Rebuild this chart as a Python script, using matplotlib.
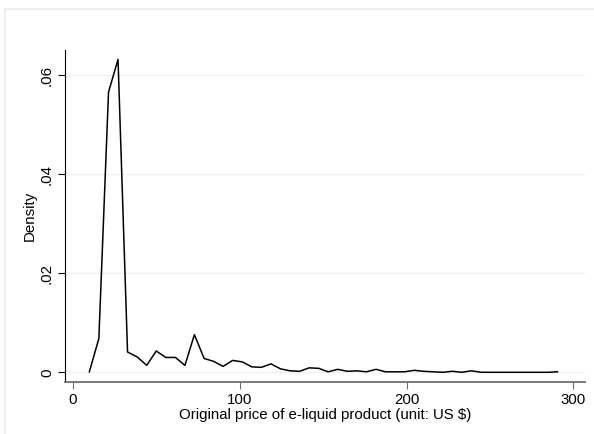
import numpy as np
import matplotlib.pyplot as plt
from matplotlib.patches import Rectangle

plt.rcParams['font.family'] = ['Liberation Sans', 'DejaVu Sans']

# bin midpoints and density
price = [9.8, 15.5, 21.3, 27.0, 32.7, 38.5, 44.2, 49.9, 55.6, 61.4,
         67.1, 72.8, 78.6, 84.3, 90.0, 95.7, 101.5, 107.2, 112.9, 118.7,
         124.4, 130.1, 135.8, 141.6, 147.3, 153.0, 158.7, 164.5, 170.2, 175.9,
         181.7, 187.4, 193.1, 198.8, 204.6, 210.3, 216.0, 221.7, 227.5, 233.2,
         238.9, 244.7, 250.4, 256.1, 261.8, 267.6, 273.3, 279.0, 284.7, 290.5]
density = [0.0001, 0.0068, 0.0566, 0.0632, 0.0041, 0.0031, 0.0014, 0.0043, 0.0030, 0.0030,
           0.0014, 0.0076, 0.0028, 0.0022, 0.0012, 0.0024, 0.0021, 0.0011, 0.0010, 0.0017,
           0.0007, 0.0003, 0.0002, 0.0009, 0.0008, 0.0001, 0.0006, 0.0002, 0.0003, 0.0001,
           0.0006, 0.0001, 0.0001, 0.0001, 0.0004, 0.0002, 0.0001, 0.0000, 0.0002, 0.0000,
           0.0003, 0.0000, 0.0000, 0.0000, 0.0000, 0.0000, 0.0000, 0.0000, 0.0000, 0.0001]

xticks = [0, 100, 200, 300]
yticks = [0, 0.02, 0.04, 0.06]
ylabels = ["0", ".02", ".04", ".06"]

fig = plt.figure(figsize=(5.94, 4.34), dpi=100)
fig.patches.append(Rectangle((5/594, -0.1), 1.1, 1 - 9/434 + 0.1,
                             transform=fig.transFigure, fill=False,
                             edgecolor="#e6eced", linewidth=1.2))

ax = fig.add_axes([65/594, 52/434, 520/594, 332/434])
ax.plot(price, density, color="black", linewidth=1.1)

ax.set_xlim(-4.8, 307)
ax.set_ylim(-0.00196, 0.0651)
ax.set_xticks(xticks)
ax.set_yticks(yticks)
ax.set_yticklabels(ylabels, rotation=90, va="center")
ax.grid(axis="y", color="#eaf2f3", linewidth=1)
ax.set_axisbelow(True)

for s in ["top", "right"]:
    ax.spines[s].set_visible(False)
ax.spines["left"].set_color("black")
ax.spines["bottom"].set_color("#6e6e6e")
ax.spines["bottom"].set_linewidth(1.3)
ax.tick_params(axis="both", labelsize=10.8, length=5, direction="out", pad=3)
ax.tick_params(axis="x", color="#6e6e6e")

ax.set_xlabel("Original price of e-liquid product (unit: US \\$)", fontsize=10.8, labelpad=1)
ax.set_ylabel("Density", fontsize=10.8, labelpad=2)

fig.savefig("out.png", dpi=100)
